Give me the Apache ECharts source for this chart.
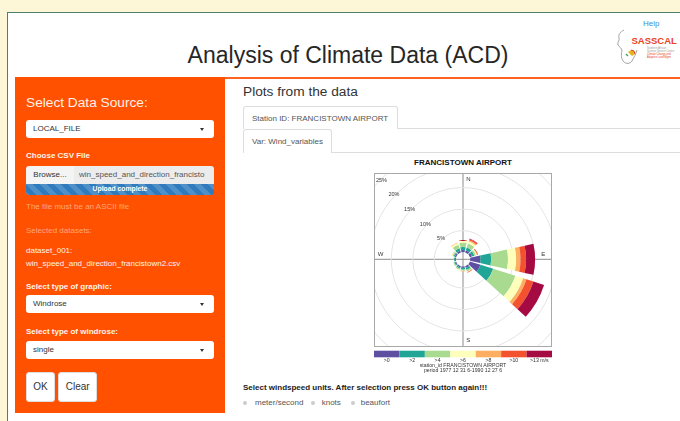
<!DOCTYPE html>
<html><head><meta charset="utf-8">
<script src="https://cdn.jsdelivr.net/npm/echarts@6/dist/echarts.min.js"></script>
<style>
html,body{margin:0;padding:0;width:680px;height:421px;overflow:hidden;background:#fdf7d8;font-family:"Liberation Sans",Arial,Helvetica,sans-serif;}
div{box-sizing:border-box;}
.a{position:absolute;white-space:nowrap;}
#page{position:absolute;left:7px;top:12px;width:700px;height:420px;background:#fff;border-left:1px solid #4f7e6f;border-top:1px solid #4f7e6f;}
.lbl{position:absolute;left:26px;font-size:8px;line-height:8px;font-weight:bold;color:#fff3ec;}
.sel{position:absolute;left:26px;width:188px;background:#fff;border-radius:3px;font-size:8px;color:#333;padding-left:7px;}
.caret{position:absolute;right:10px;width:0;height:0;border-left:2.5px solid transparent;border-right:2.5px solid transparent;border-top:3px solid #333;}
.btn{position:absolute;top:372px;height:30px;background:#fff;border:1px solid #ddd;border-radius:3px;font-size:10px;line-height:28px;color:#333;text-align:center;}
.tab{position:absolute;left:243px;background:#fff;border:1px solid #ddd;border-bottom:none;border-radius:3px 3px 0 0;font-size:8px;color:#555;padding-left:8px;}
.hline{position:absolute;height:1px;background:#ddd;}
.radio{position:absolute;top:401.3px;width:4px;height:4px;border-radius:50%;background:#ccc;}
.rtxt{position:absolute;top:399.3px;font-size:8px;line-height:8px;color:#555;}
</style></head>
<body>
<div id="page"></div>

<!-- header -->
<div class="a" style="left:148px;top:41px;width:400px;text-align:center;font-size:23px;line-height:28px;color:#262626;">Analysis of Climate Data (ACD)</div>
<div class="a" style="left:643px;top:20px;font-size:8px;line-height:8px;color:#3b8fd4;">Help</div>
<svg class="a" style="left:612px;top:26px;" width="68" height="44" viewBox="0 0 68 44">
  <path d="M12 4 C8 6,6 9,7 12 C8 14,5 16,6 19 C7 21,10 22,10 25 C9 29,9 33,12 36 C14 38,18 38,20 35 C22 31,24 28,25 24" fill="none" stroke="#9a9a9a" stroke-width="0.9"/>
  <path d="M16 26 l3 -2 l3 1 l1 3 l-3 2 z" fill="#e8b21e"/>
  <path d="M19 24 l3 1 l1 3" fill="none" stroke="#d9462a" stroke-width="1"/>
  <path d="M14 28 l2 2" stroke="#3aa14a" stroke-width="1.2"/>
  <text x="19.5" y="18" font-family="Liberation Sans, Arial" font-weight="bold" font-size="9.5" fill="#e8441e">SASSCAL</text>
  <text x="35" y="23" font-family="Liberation Sans, Arial" font-size="2.6" fill="#999">Southern African</text>
  <text x="35" y="26" font-family="Liberation Sans, Arial" font-size="2.6" fill="#999">Science Service Centre</text>
  <text x="35" y="29" font-family="Liberation Sans, Arial" font-size="2.6" fill="#e8441e">Climate Change and</text>
  <text x="35" y="32" font-family="Liberation Sans, Arial" font-size="2.6" fill="#e8441e">Adaptive Land Mgmt</text>
</svg>

<!-- sidebar -->
<div class="a" style="left:15px;top:77px;width:210px;height:336px;background:#ff5100;"></div>
<div class="a" style="left:225px;top:76.5px;width:460px;height:2px;background:#ff6322;"></div>
<div class="a" style="left:26px;top:96.2px;font-size:13.7px;line-height:13.7px;color:#fff1ea;">Select Data Source:</div>
<div class="sel" style="top:120px;height:18px;line-height:18px;">LOCAL_FILE<div class="caret" style="top:7.5px;"></div></div>
<div class="lbl" style="top:152px;">Choose CSV File</div>
<div class="a" style="left:26px;top:165.7px;width:48px;height:18px;background:#f4f4f4;border-radius:3px 0 0 0;font-size:8px;line-height:18px;color:#333;text-align:center;">Browse...</div>
<div class="a" style="left:74px;top:165.7px;width:140px;height:18px;background:#ececec;border-radius:0 3px 0 0;font-size:8px;line-height:18px;color:#555;padding-left:5px;overflow:hidden;">win_speed_and_direction_francisto</div>
<div class="a" style="left:26px;top:184.3px;width:188px;height:10.5px;border-radius:0 0 3px 3px;background-color:#2f7bbd;background-image:linear-gradient(45deg,rgba(255,255,255,.16) 25%,transparent 25%,transparent 50%,rgba(255,255,255,.16) 50%,rgba(255,255,255,.16) 75%,transparent 75%,transparent);background-size:14px 14px;font-size:6.8px;line-height:10.5px;font-weight:bold;color:#fff;text-align:center;">Upload complete</div>
<div class="a" style="left:26px;top:203.3px;font-size:8px;line-height:8px;color:#ffa47c;">The file must be an ASCII file</div>
<div class="a" style="left:26px;top:226.7px;font-size:8px;line-height:8px;color:#ffa47c;">Selected datasets:</div>
<div class="a" style="left:26px;top:247px;font-size:8px;line-height:8px;color:#fff3ec;">dataset_001:</div>
<div class="a" style="left:26px;top:259.5px;font-size:8px;line-height:8px;color:#fff3ec;">win_speed_and_direction_francistown2.csv</div>
<div class="lbl" style="top:282.7px;">Select type of graphic:</div>
<div class="sel" style="top:295px;height:18.3px;line-height:18.3px;">Windrose<div class="caret" style="top:7.7px;"></div></div>
<div class="lbl" style="top:328.3px;">Select type of windrose:</div>
<div class="sel" style="top:341px;height:18.3px;line-height:18.3px;">single<div class="caret" style="top:7.7px;"></div></div>
<div class="btn" style="left:26px;width:29px;">OK</div>
<div class="btn" style="left:58.3px;width:38.7px;">Clear</div>

<!-- main panel -->
<div class="a" style="left:243px;top:84.8px;font-size:13.7px;line-height:13.7px;color:#333;">Plots from the data</div>
<div class="hline" style="left:243px;top:128px;width:440px;"></div>
<div class="tab" style="top:105.7px;width:155px;height:23px;line-height:23px;">Station ID: FRANCISTOWN AIRPORT</div>
<div class="hline" style="left:243px;top:152px;width:440px;"></div>
<div class="tab" style="top:129px;width:89.3px;height:23.5px;line-height:23.5px;">Var: Wind_variables</div>

<div class="a" style="left:363px;top:158.5px;width:200px;text-align:center;font-size:8px;line-height:8px;font-weight:bold;color:#111;">FRANCISTOWN AIRPORT</div>
<div class="a" style="left:374px;top:173px;width:178px;height:174px;border:1px solid #a8a8a8;"></div>
<div id="rose" class="a" style="left:375px;top:174px;width:176px;height:172px;"></div>
<div id="cbar" class="a" style="left:372px;top:348px;width:182px;height:27px;"></div>

<div class="a" style="left:243px;top:384.3px;font-size:8px;line-height:8px;font-weight:bold;color:#222;">Select windspeed units. After selection press OK button again!!!</div>
<div class="radio" style="left:243px;"></div><div class="rtxt" style="left:255px;">meter/second</div>
<div class="radio" style="left:311.3px;"></div><div class="rtxt" style="left:321.7px;">knots</div>
<div class="radio" style="left:350.7px;"></div><div class="rtxt" style="left:360.7px;">beaufort</div>

<script>
// ---- data (percent frequency per direction, per wind speed class) ----
const directions = ['N','NNE','ENE','E','ESE','SSE','S','SSW','WSW','W','WNW','NNW'];
const speedBins = ['>0','>2','>4','>6','>8','>10','>13 m/s'];
const ws_gt0  = [0.5,0.5,0.5,2.4,2.6,0.4,0.3,0.3,0.2,0.2,0.3,0.4];
const ws_gt2  = [0.7,0.7,0.6,2.5,3.1,0.5,0.4,0.3,0.3,0.2,0.3,0.6];
const ws_gt4  = [1.0,1.0,0.4,3.9,5.4,0.4,0.3,0.3,0.2,0.1,0.3,0.9];
const ws_gt6  = [0.5,0.5,0.2,1.9,1.9,0.1,0.1,0.1,0.1,0.0,0.1,0.4];
const ws_gt8  = [0.1,0.3,0.1,1.0,0.8,0.1,0.1,0.0,0.0,0.0,0.1,0.1];
const ws_gt10 = [0.0,0.3,0.2,1.3,1.7,0.1,0.0,0.0,0.0,0.0,0.0,0.0];
const ws_gt13 = [0.0,0.1,0.0,2.1,2.6,0.0,0.0,0.0,0.0,0.0,0.0,0.0];
const gridPct = [5,10,15,20,25];
const cardinalLabels = ['N','E','S','W'];
const captionLines = ['station_id FRANCISTOWN AIRPORT','period 1977 12 31 6-1990 12 27 6'];

// ---- style ----
const palette = ['#5e4fa2','#20a596','#a8db8f','#ffffbc','#fdae61','#f4512f','#a50a43'];
const seriesData = [ws_gt0,ws_gt2,ws_gt4,ws_gt6,ws_gt8,ws_gt10,ws_gt13];
const cx = 88, cy = 85.3, rIn = 7.2, rOut = 114.7, rMax = 25;
const FONT = '"Liberation Sans", Arial, sans-serif';

const rose = echarts.init(document.getElementById('rose'), null, {renderer:'canvas'});
const g = [];
g.push({type:'line', z:0, shape:{x1:cx,y1:0,x2:cx,y2:172}, style:{stroke:'#8c8c8c',lineWidth:1}});
g.push({type:'line', z:0, shape:{x1:0,y1:cy,x2:176,y2:cy}, style:{stroke:'#8c8c8c',lineWidth:1}});
gridPct.forEach(p => {
  const r = rIn + (rOut - rIn) * p / rMax + 1.3;
  const a = 137 * Math.PI / 180;
  const x = Math.max(6.5, cx + r*Math.cos(a));
  const y = Math.max(5, cy - r*Math.sin(a));
  g.push({type:'text', z:10, x, y,
    style:{text: p + '%', fill:'#333', font:'5.5px ' + FONT, textAlign:'center', align:'center', textVerticalAlign:'middle', verticalAlign:'middle'}});
});
const cardPos = {N:[5.3,-80], E:[80.3,-5.3], S:[5.3,80.7], W:[-82.3,-5.3]};
cardinalLabels.forEach(c => {
  g.push({type:'text', z:10, x: cx + cardPos[c][0], y: cy + cardPos[c][1],
    style:{text:c, fill:'#333', font:'6px ' + FONT, textAlign:'center', align:'center', textVerticalAlign:'middle', verticalAlign:'middle'}});
});

rose.setOption({
  animation:false,
  polar:{center:[cx,cy], radius:[rIn,rOut]},
  angleAxis:{type:'category', data:directions, startAngle:105, clockwise:true,
    axisLine:{show:false}, axisTick:{show:false}, axisLabel:{show:false}, splitLine:{show:false}},
  radiusAxis:{type:'value', min:0, max:rMax, interval:5,
    axisLine:{show:false}, axisTick:{show:false}, axisLabel:{show:false},
    splitLine:{show:true, lineStyle:{color:['rgba(0,0,0,0)','#e4e4e4','#e4e4e4','#e4e4e4','#e4e4e4','#e4e4e4'], width:1}}},
  series: speedBins.map((name,i) => ({
    type:'bar', coordinateSystem:'polar', name, stack:'ws', data: seriesData[i],
    barCategoryGap:'17%', itemStyle:{color:palette[i]}, silent:true, z:2
  })),
  graphic: g
});

const cbar = echarts.init(document.getElementById('cbar'), null, {renderer:'canvas'});
cbar.setOption({
  animation:false,
  grid:{left:2, right:2, top:2.7, height:6.6},
  xAxis:{type:'category', data:speedBins, axisLine:{show:false}, axisTick:{show:false},
    axisLabel:{interval:0, fontSize:5.2, color:'#333', margin:1.2, fontFamily:FONT}},
  yAxis:{type:'value', min:0, max:1, show:false},
  series:[{type:'bar', barCategoryGap:0, silent:true,
    data: speedBins.map((b,i) => ({value:1, itemStyle:{color:palette[i]}}))}],
  graphic: captionLines.map((t,i) => ({type:'text', x:91, y:17.6 + i*5,
    style:{text:t, fill:'#333', font:'5.2px ' + FONT, textAlign:'center', align:'center', textVerticalAlign:'middle', verticalAlign:'middle'}}))
});
</script>
</body></html>
